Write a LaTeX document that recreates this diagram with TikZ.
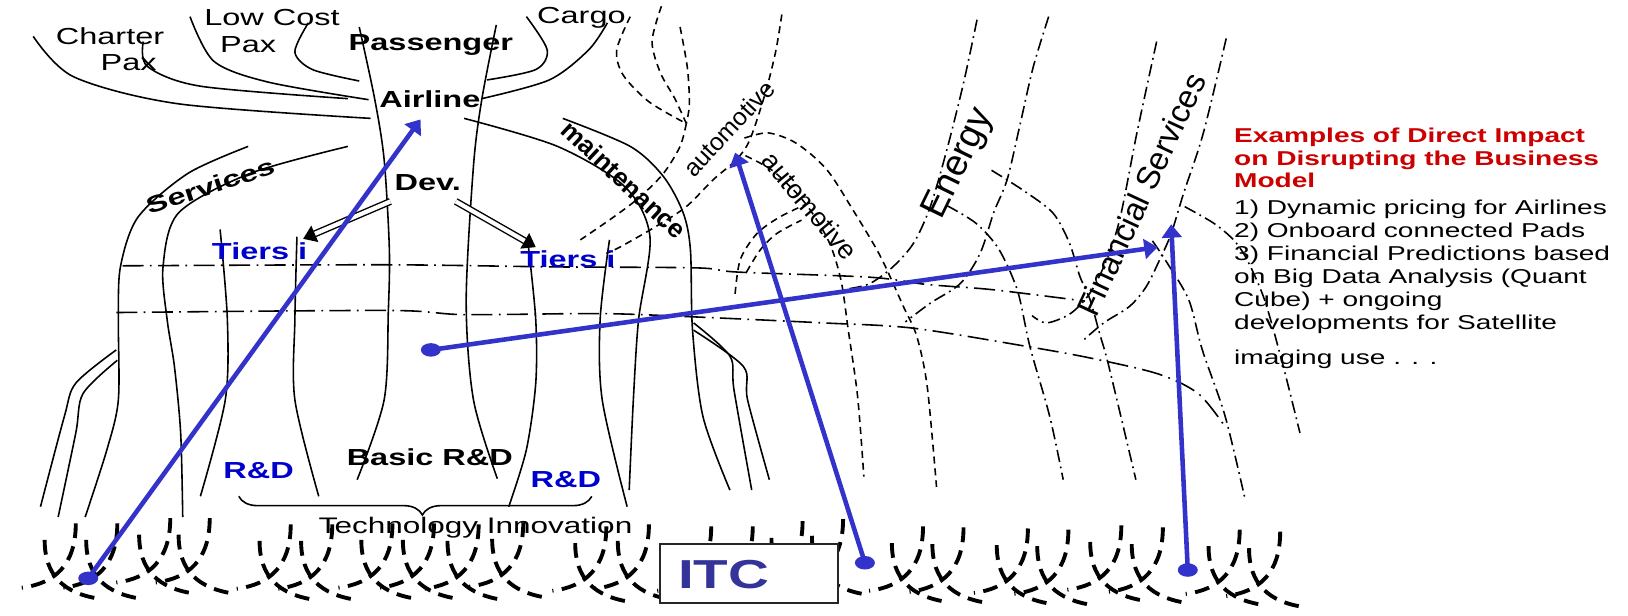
\documentclass[tikz,border=0pt]{standalone}
\usepackage{fontspec}
\setmainfont{Liberation Sans}[FakeStretch=1.4]
\newfontfamily\uprightsans{Liberation Sans}
\usetikzlibrary{arrows.meta,decorations.pathreplacing,shapes.geometric}
\definecolor{arrowblue}{RGB}{51,51,204}
\definecolor{tierblue}{RGB}{0,0,204}
\definecolor{itcblue}{RGB}{51,51,153}
\definecolor{impactred}{RGB}{204,0,0}
\begin{document}
\begin{tikzpicture}[x=0.010383cm,y=-0.010383cm,
	stem/.style={line width=0.45pt},
	trail/.style={line width=0.45pt,dash pattern=on 2pt off 1.4pt},
	layer/.style={line width=0.45pt,dash pattern=on 6pt off 1.8pt on 0.5pt off 1.8pt},
	band/.style={line width=0.45pt,dash pattern=on 3.5pt off 1.3pt on 0.5pt off 1.3pt},
	rootarc/.style={line width=1.1pt,dash pattern=on 4.2pt off 2.4pt},
	impact/.style={arrowblue,line width=1.3pt,-{Triangle[length=3.8pt,width=5.6pt]}},
	spot/.style={ellipse,fill=arrowblue,inner sep=0pt,minimum width=0.2cm,minimum height=0.135cm},
	devarrow/.style={line width=0.4pt,double,double distance=1.2pt,-{Triangle[length=3.6pt,width=5pt]}},
	txt/.style={inner sep=0pt,font=\fontsize{6.6}{7.6}\selectfont},
	btxt/.style={inner sep=0pt,font=\fontsize{6.6}{7.6}\selectfont\bfseries},
	tier/.style={btxt,text=tierblue},
	slanted/.style={inner sep=0pt,font=\uprightsans\fontsize{7}{8}\selectfont}]
	\path[use as bounding box,fill=white] (0,0) rectangle (1568,593);
	\draw[stem] plot[smooth] coordinates{(32,35) (71,74) (172,100) (357,114)};
	\draw[stem] plot[smooth] coordinates{(138,40) (142,64) (193,83) (335,95)};
	\draw[stem] plot[smooth] coordinates{(183,16) (206,59) (258,79) (355,96)};
	\draw[stem] plot[smooth] coordinates{(297,22) (284,50) (301,67) (346,78)};
	\draw[stem] plot[smooth] coordinates{(346,26) (361,96) (370,154) (375,240) (374,300) (370,385) (344,462)};
	\draw[stem] plot[smooth] coordinates{(478,24) (464,96) (456,160) (449,290) (456,385) (479,461)};
	\draw[stem] plot[smooth] coordinates{(507,16) (527,48) (516,67) (469,77)};
	\draw[stem] plot[smooth] coordinates{(585,22) (567,48) (529,77) (464,95)};
	\draw[stem] plot[smooth] coordinates{(239,141) (181,167) (133,209) (116,257) (114,308) (114,385) (103,433) (82,498)};
	\draw[stem] plot[smooth] coordinates{(335,141) (241,167) (172,205) (157,257) (161,308) (168,353) (174,417) (176,498)};
	\draw[stem] plot[smooth] coordinates{(112,337) (73,369) (62,401) (39,488)};
	\draw[stem] plot[smooth] coordinates{(113,347) (80,379) (73,417) (56,498)};
	\draw[stem] plot[smooth] coordinates{(212,221) (219,308) (217,385) (193,478)};
	\draw[stem] plot[smooth] coordinates{(286,228) (284,308) (284,385) (307,478)};
	\draw[stem] plot[smooth] coordinates{(509,238) (516,308) (516,369) (507,433) (490,488)};
	\draw[stem] plot[smooth] coordinates{(587,231) (578,308) (580,385) (604,488)};
	\draw[stem] plot[smooth] coordinates{(447,114) (537,141) (602,180) (626,228) (615,308) (610,385) (606,472)};
	\draw[stem] plot[smooth] coordinates{(542,114) (607,141) (639,170) (658,205) (665,241) (667,318) (677,401) (703,472)};
	\draw[stem] plot[smooth] coordinates{(668,311) (703,343) (707,376) (724,472)};
	\draw[stem] plot[smooth] coordinates{(668,318) (716,353) (720,385) (741,462)};
	\draw[layer] plot[smooth] coordinates{(118,256) (370,255) (530,257) (671,258) (710,262) (838,267) (893,274) (956,279) (1045,290)};
	\draw[layer] plot[smooth] coordinates{(112,301) (374,299) (447,303) (578,302) (664,305) (793,311) (879,316) (991,334) (1051,345) (1115,360) (1154,379) (1180,411)};
	\draw[trail] plot[smooth] coordinates{(607,16) (594,48) (600,72) (625,98) (661,119)};
	\draw[trail] plot[smooth] coordinates{(637,6) (628,40) (636,70) (650,95) (661,119)};
	\draw[trail] plot[smooth] coordinates{(655,26) (662,65) (664,100) (661,119)};
	\draw[trail] plot[smooth] coordinates{(661,119) (655,141) (639,167) (616,190) (591,209) (559,231)};
	\draw[trail] plot[smooth] coordinates{(753,14) (747,50) (737,90) (722,135) (709,154) (687,173) (661,199) (632,218) (597,238) (584,244)};
	\draw[trail] plot[smooth] coordinates{(717,133) (740,128) (767,138) (796,163) (822,203) (848,247) (870,295) (883,324) (893,372) (902,469)};
	\draw[trail] plot[smooth] coordinates{(718,150) (745,165) (775,195) (798,232) (810,270) (817,318) (826,382) (832,459)};
	\draw[trail] plot[smooth] coordinates{(708,283) (713,250) (729,225) (751,209) (780,195)};
	\draw[trail] plot[smooth] coordinates{(719,262) (732,241) (748,225) (772,212)};
	\draw[band] plot[smooth] coordinates{(941,19) (928,80) (912,144) (896,199) (880,234) (860,257) (838,273) (818,278)};
	\draw[band] plot[smooth] coordinates{(1010,16) (995,65) (982,122) (970,173) (957,205) (944,244) (925,273) (896,292) (872,310)};
	\draw[band] plot[smooth] coordinates{(912,198) (940,215) (962,240) (980,280) (992,334) (1011,401) (1024,462)};
	\draw[band] plot[smooth] coordinates{(955,164) (985,183) (1014,205) (1030,234) (1040,266) (1050,289) (1059,321) (1068,353) (1094,462)};
	\draw[band] plot[smooth] coordinates{(1114,40) (1095,128) (1079,209) (1066,250) (1050,282) (1031,302) (1008,311) (994,304)};
	\draw[band] plot[smooth] coordinates{(1181,37) (1159,128) (1140,186) (1128,225) (1117,250) (1104,276) (1088,295) (1063,311) (1043,328)};
	\draw[band] plot[smooth] coordinates{(1141,199) (1169,215) (1188,231) (1201,250) (1218,289) (1236,353) (1252,417)};
	\draw[band] plot[smooth] coordinates{(1110,232) (1124,253) (1145,289) (1158,337) (1180,401) (1199,480)};
	\node[txt] (charter) at (106,35) {Charter};
	\node[txt] (charterpax) at (124,60) {Pax};
	\node[txt] (lowcost) at (262,17) {Low Cost};
	\node[txt] (lowcostpax) at (239,43) {Pax};
	\node[btxt] (passenger) at (415,43) {Passenger};
	\node[txt] (cargo) at (560,17) {Cargo};
	\node[btxt] (airline) at (414,96) {Airline};
	\node[btxt,rotate=18] (services) at (203,179) {Services};
	\node[btxt] (dev) at (412,176) {Dev.};
	\node[tier] (tierleft) at (250,242) {Tiers i};
	\node[tier] (tierright) at (547,250) {Tiers i};
	\node[slanted,font=\uprightsans\fontsize{7.4}{8}\selectfont\bfseries,rotate=-43] (maint) at (601,173) {maintenance};
	\node[slanted,rotate=47] (autoup) at (702,124) {automotive};
	\node[slanted,font=\uprightsans\fontsize{7.6}{8.5}\selectfont,rotate=-50] (autodown) at (780,198) {automotive};
	\node[slanted,font=\uprightsans\fontsize{10.5}{11}\selectfont,rotate=64] (energy) at (924,158) {Energy};
	\node[slanted,font=\uprightsans\fontsize{9.2}{10}\selectfont,rotate=65] (finance) at (1099,187) {Financial Services};
	\node[btxt] (basic) at (414,440) {Basic R\&D};
	\node[tier] (rdleft) at (249,453) {R\&D};
	\node[tier] (rdright) at (545,462) {R\&D};
	\draw[stem,decorate,decoration={brace,mirror,amplitude=5.3pt,aspect=0.52}] (230,478) -- (570,478);
	\node[txt,font=\fontsize{6.4}{7.4}\selectfont] (techinno) at (458,508) {Technology Innovation};
	\coordinate (devl) at (376,194);
	\coordinate (devr) at (439,194);
	\coordinate (tipl) at (292,230);
	\coordinate (tipr) at (516,238);
	\draw[devarrow] (devl) -- (tipl);
	\draw[devarrow] (devr) -- (tipr);
	\foreach \t/\yt in {73/504,113/504,164/499,202/499,280/505,320/505,378/504,418/504,461/505,504/503,584/507,625/505,685/507,725/507,773/502,812/500,889/507,928/508,990/509,1029/510,1080/506,1120/508,1194/510,1233/512}{
		\draw[rootarc] (\t,\yt) .. controls (\t,\yt+40) and (\t-20,\yt+58) .. (\t-52,\yt+62);
		\draw[rootarc] (\t-30,\yt+16) .. controls (\t-30,\yt+50) and (\t-12,\yt+68) .. (\t+25,\yt+73);
	}
	\node[draw=black!85,fill=white,line width=0.6pt,minimum width=1.776cm,minimum height=0.592cm,inner sep=0pt] (itcbox) at (721.5,552.5) {};
	\node[inner sep=0pt,text=itcblue,font=\fontsize{11.5}{12}\selectfont\bfseries] (itc) at (697,553) {ITC};
	\foreach \t [count=\i] in {Examples of Direct Impact,on Disrupting the Business,Model}
		\node[anchor=base west,inner sep=0pt,text=impactred,font=\fontsize{5.7}{6.6}\selectfont\bfseries] (head\i) at (1188,115.7+21.7*\i) {\t};
	\foreach \t/\yy [count=\i] in {{1) Dynamic pricing for Airlines}/207,{2) Onboard connected Pads}/228.5,{3) Financial Predictions based}/250.5,{on Big Data Analysis (Quant}/273,{Cube) + ongoing}/295.3,{developments for Satellite}/317.8,{imaging use . . .}/351.5}
		\node[anchor=base west,inner sep=0pt,font=\fontsize{5.7}{6.6}\selectfont] (item\i) at (1188,\yy) {\t};
	\node[spot] (s1) at (85,557) {};
	\node[spot] (s2) at (415,337) {};
	\node[spot] (s3) at (833,542) {};
	\node[spot] (s4) at (1144,549) {};
	\coordinate (toairline) at (405,115);
	\coordinate (tofinance) at (1115,238);
	\coordinate (toauto) at (708,147);
	\coordinate (tofinance2) at (1128,216);
	\draw[impact] (s1.center) -- (toairline);
	\draw[impact] (s2.center) -- (tofinance);
	\draw[impact] (s3.center) -- (toauto);
	\draw[impact] (s4.center) -- (tofinance2);
\end{tikzpicture}
\end{document}
